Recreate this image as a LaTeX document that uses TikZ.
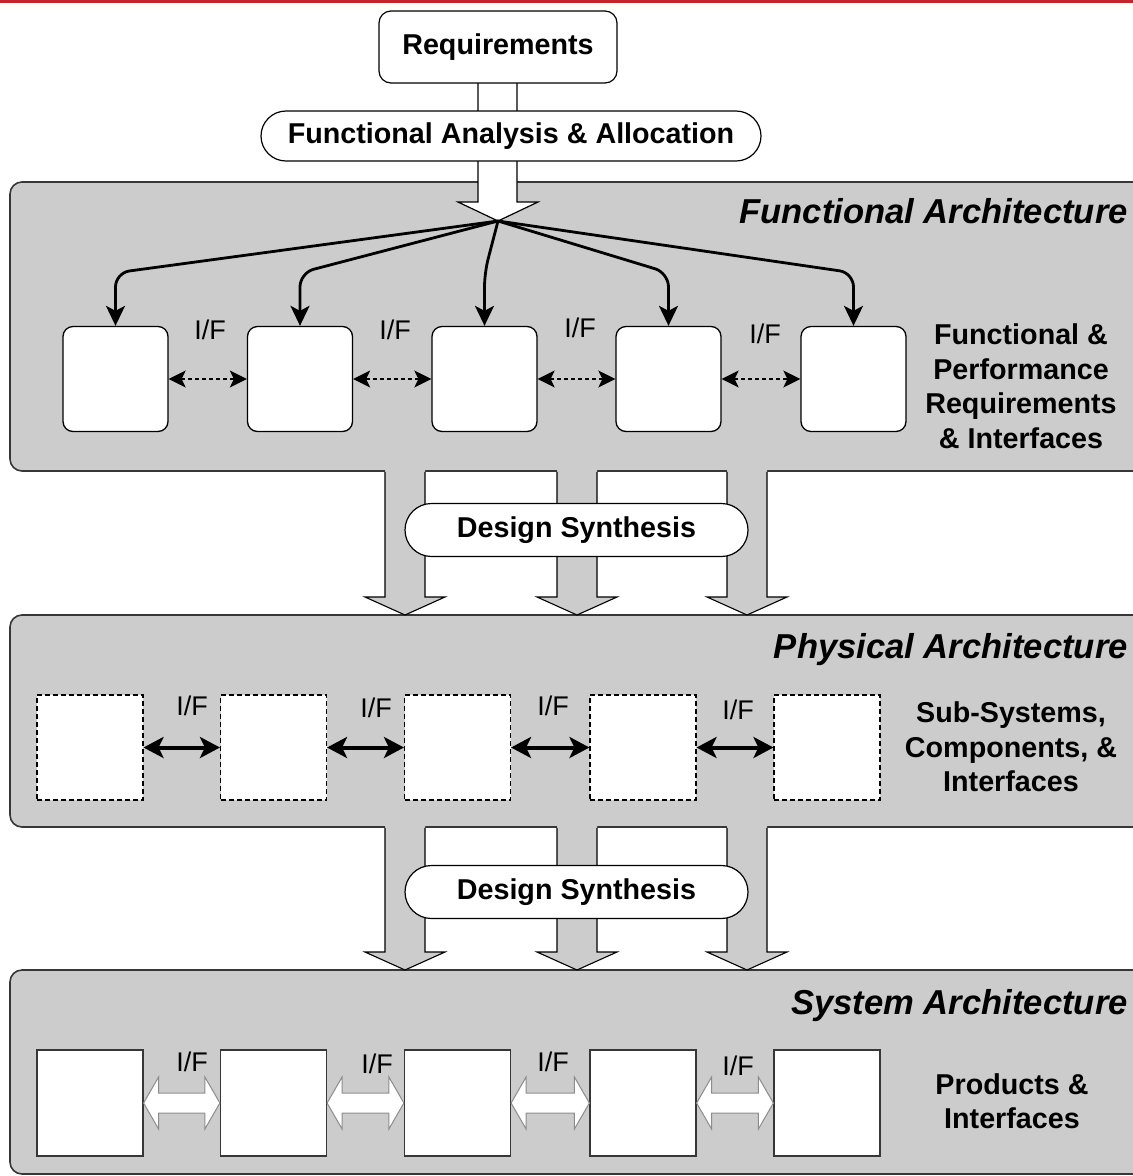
\documentclass[tikz,border=0pt]{standalone}
\usepackage{fontspec}
\setmainfont{Liberation Sans}
\usetikzlibrary{arrows.meta,calc,shapes.misc}
\definecolor{panelgray}{RGB}{204,204,204}
\definecolor{edgegray}{RGB}{55,55,55}
\definecolor{topred}{RGB}{200,35,45}
\definecolor{hollowedge}{RGB}{140,140,140}
\begin{document}
\begin{tikzpicture}[x=1pt,y=-1pt,
  panel/.style={fill=panelgray, draw=edgegray, line width=1.6pt, rounded corners=12pt},
  bigarrowfill/.style={fill=panelgray},
  bigarrowedge/.style={draw=black, line width=1.1pt, line join=miter},
  pill/.style={rounded rectangle, draw=black, fill=white, line width=1.2pt, inner sep=0pt, font=\bfseries\fontsize{28.7}{34.5}\selectfont},
  reqbox/.style={draw=black, fill=white, line width=1.2pt, rounded corners=12pt, minimum width=238pt, minimum height=72pt, inner sep=0pt, font=\bfseries\fontsize{28.7}{34.5}\selectfont},
  fbox/.style={draw=black, fill=white, line width=1.3pt, rounded corners=10pt, minimum width=105pt, minimum height=105pt, inner sep=0pt},
  pbox/.style={draw=black, fill=white, line width=1.1pt, dash pattern=on 5pt off 3pt, minimum width=106pt, minimum height=105pt, inner sep=0pt},
  sbox/.style={draw=edgegray, fill=white, line width=1.2pt, minimum width=106pt, minimum height=106pt, inner sep=0pt},
  branch/.style={draw=black, line width=2.8pt, rounded corners=14pt, -{Stealth[length=20pt,width=19pt,inset=5pt]}},
  dashlink/.style={draw=black, line width=1.5pt, dash pattern=on 4pt off 3pt, {Stealth[length=17pt,width=17pt,inset=4pt]}-{Stealth[length=17pt,width=17pt,inset=4pt]}},
  thicklink/.style={draw=black, line width=4pt, {Stealth[length=20pt,width=21pt,inset=5pt]}-{Stealth[length=20pt,width=21pt,inset=5pt]}},
  hollow/.style={draw=hollowedge, fill=white, line width=1pt, line join=miter},
  ifl/.style={font=\fontsize{27}{30}\selectfont, inner sep=0pt},
  archtitle/.style={font=\bfseries\itshape\fontsize{34.6}{38}\selectfont, inner sep=0pt, anchor=base east},
  sidetext/.style={font=\bfseries\fontsize{28.7}{34.5}\selectfont, align=center, inner sep=0pt}
]
\useasboundingbox (0,0) rectangle (1133,1176);
\clip (0,0) rectangle (1133,1176);
\fill[white] (0,0) rectangle (1133,1176);
\fill[topred] (0,0) rectangle (1133,2.5);

% panels
\draw[panel] (10,182) rectangle (1170,471);
\draw[panel] (10,615) rectangle (1170,827);
\draw[panel] (10,970) rectangle (1170,1174);

% design synthesis arrows
\foreach \cx in {405,577,747}{
  \fill[bigarrowfill] (\cx-20,465) -- (\cx-20,597) -- (\cx-40,597) -- (\cx,615) -- (\cx+40,597) -- (\cx+20,597) -- (\cx+20,465) -- cycle;
  \draw[bigarrowedge] (\cx-20,471.8) -- (\cx-20,597) -- (\cx-40,597) -- (\cx,615) -- (\cx+40,597) -- (\cx+20,597) -- (\cx+20,471.8);
  \fill[bigarrowfill] (\cx-20,821) -- (\cx-20,952) -- (\cx-40,952) -- (\cx,970) -- (\cx+40,952) -- (\cx+20,952) -- (\cx+20,821) -- cycle;
  \draw[bigarrowedge] (\cx-20,827.8) -- (\cx-20,952) -- (\cx-40,952) -- (\cx,970) -- (\cx+40,952) -- (\cx+20,952) -- (\cx+20,827.8);
}
\node[pill, minimum width=343pt, minimum height=53pt] (ds1) at (576.5,530) {Design Synthesis};
\node[pill, minimum width=343pt, minimum height=53pt] (ds2) at (576.5,892) {Design Synthesis};

% requirements stem
\coordinate (hub) at (498,221);
\filldraw[fill=white, draw=black, line width=1.2pt, line join=miter] (478,78) -- (478,202) -- (458,202) -- (hub) -- (538,202) -- (517,202) -- (517,78);
\node[reqbox] (req) at (498,47) {Requirements};
\node[pill, minimum width=500pt, minimum height=50pt] (faa) at (511,136) {Functional Analysis \& Allocation};

% functional architecture
\node[fbox] (f1) at (115.5,379) {};
\node[fbox] (f2) at (300,379) {};
\node[fbox] (f3) at (484.5,379) {};
\node[fbox] (f4) at (668.5,379) {};
\node[fbox] (f5) at (853.5,379) {};
\foreach \n in {f1,f2,f3,f4,f5}{
  \draw[branch] (hub) -- ([yshift=53pt]\n.north) -- (\n.north);
}
\draw[dashlink] (f1.east) -- (f2.west);
\draw[dashlink] (f2.east) -- (f3.west);
\draw[dashlink] (f3.east) -- (f4.west);
\draw[dashlink] (f4.east) -- (f5.west);
\node[ifl] (fi1) at (210,330) {I/F};
\node[ifl] (fi2) at (395,330) {I/F};
\node[ifl] (fi3) at (580,328) {I/F};
\node[ifl] (fi4) at (765,334) {I/F};
\node[archtitle] (ft) at (1128,223) {Functional Architecture};
\node[sidetext] (fs) at (1021,386) {Functional \&\\Performance\\Requirements\\\& Interfaces};

% physical architecture
\node[pbox] (p1) at (90,747.5) {};
\node[pbox] (p2) at (273.5,747.5) {};
\node[pbox] (p3) at (457.5,747.5) {};
\node[pbox] (p4) at (643,747.5) {};
\node[pbox] (p5) at (827,747.5) {};
\draw[thicklink] (p1.east) -- (p2.west);
\draw[thicklink] (p2.east) -- (p3.west);
\draw[thicklink] (p3.east) -- (p4.west);
\draw[thicklink] (p4.east) -- (p5.west);
\node[ifl] (pi1) at (192,706) {I/F};
\node[ifl] (pi2) at (376,708) {I/F};
\node[ifl] (pi3) at (553,706) {I/F};
\node[ifl] (pi4) at (738,710) {I/F};
\node[archtitle] (pt) at (1128,658) {Physical Architecture};
\node[sidetext] (ps) at (1011,747) {Sub-Systems,\\Components, \&\\Interfaces};

% system architecture
\node[sbox] (s1) at (90,1103) {};
\node[sbox] (s2) at (273.5,1103) {};
\node[sbox] (s3) at (457.5,1103) {};
\node[sbox] (s4) at (643,1103) {};
\node[sbox] (s5) at (827,1103) {};
\foreach \a/\b in {s1/s2,s2/s3,s3/s4,s4/s5}{
  \draw[hollow] (\a.east) -- ($(\a.east)+(15,-26)$) -- ($(\a.east)+(15,-10)$) -- ($(\b.west)+(-15,-10)$) -- ($(\b.west)+(-15,-26)$) -- (\b.west) -- ($(\b.west)+(-15,26)$) -- ($(\b.west)+(-15,10)$) -- ($(\a.east)+(15,10)$) -- ($(\a.east)+(15,26)$) -- cycle;
}
\node[ifl] (si1) at (192,1062) {I/F};
\node[ifl] (si2) at (377,1064) {I/F};
\node[ifl] (si3) at (553,1062) {I/F};
\node[ifl] (si4) at (738,1066) {I/F};
\node[archtitle] (st) at (1128,1014) {System Architecture};
\node[sidetext] (ss) at (1012,1101) {Products \&\\Interfaces};
\end{tikzpicture}
\end{document}
